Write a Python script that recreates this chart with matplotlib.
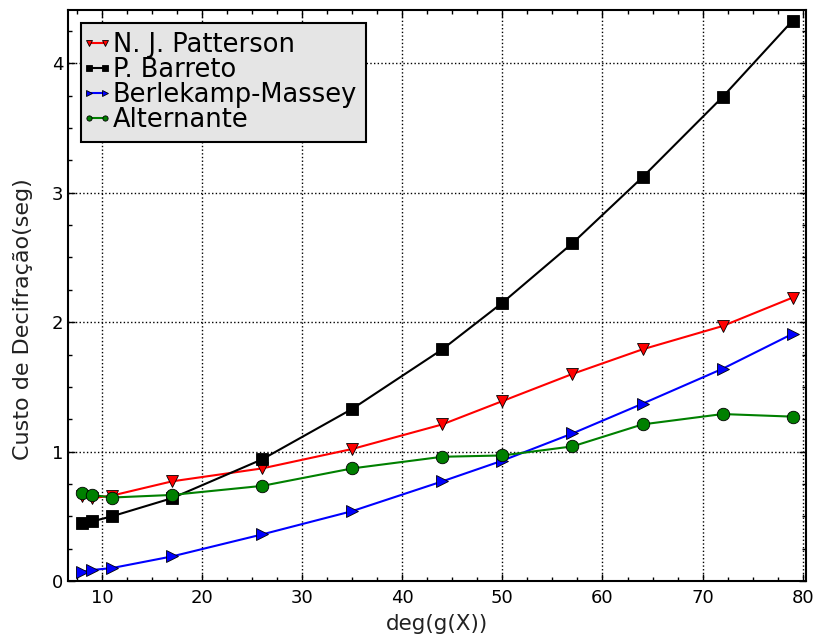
import matplotlib
matplotlib.use("Agg")
import matplotlib.pyplot as plt
from matplotlib.lines import Line2D
from matplotlib.legend_handler import HandlerLine2D
from matplotlib.ticker import MultipleLocator

# grau do polinomio de Goppa
graus = [8, 9, 11, 17, 26, 35, 44, 50, 57, 64, 72, 79]

patterson = [0.66, 0.64, 0.66, 0.77, 0.87, 1.02, 1.21, 1.39, 1.60, 1.79, 1.97, 2.19]
barreto = [0.45, 0.46, 0.50, 0.64, 0.94, 1.33, 1.79, 2.15, 2.61, 3.12, 3.74, 4.33]
berlekamp = [0.07, 0.085, 0.10, 0.19, 0.36, 0.54, 0.77, 0.93, 1.14, 1.37, 1.64, 1.91]
alternante = [0.68, 0.665, 0.645, 0.665, 0.735, 0.87, 0.96, 0.97, 1.04, 1.21, 1.29, 1.27]

fig = plt.figure(figsize=(8.13, 6.41), dpi=100)
ax = fig.add_axes([0.0836, 0.0936, 0.9074, 0.8904])

estilo = dict(markersize=9, lw=1.5, markeredgecolor="k", markeredgewidth=0.6)
ax.plot(graus, patterson, color="red", marker="v", label="N. J. Patterson", **estilo)
ax.plot(graus, barreto, color="black", marker="s", label="P. Barreto", **estilo)
ax.plot(graus, berlekamp, color="blue", marker=">", label="Berlekamp-Massey", **estilo)
ax.plot(graus, alternante, color="green", marker="o", label="Alternante", **estilo)

ax.set_xlim(6.6, 80.3)
ax.set_ylim(0, 4.41)
ax.xaxis.set_major_locator(MultipleLocator(10))
ax.xaxis.set_minor_locator(MultipleLocator(2.5))
ax.yaxis.set_major_locator(MultipleLocator(1))
ax.yaxis.set_minor_locator(MultipleLocator(0.25))
ax.tick_params(which="both", direction="in", top=True, right=True, labelsize=13)
ax.tick_params(which="major", length=5, width=1)
ax.tick_params(axis="x", which="major", pad=6)
ax.tick_params(which="minor", length=3, width=1)
ax.grid(True, which="major", color="k", linestyle=":", linewidth=1)
for s in ax.spines.values():
    s.set_linewidth(1.5)

ax.set_xlabel("deg(g(X))", fontsize=15.5, labelpad=5, color="#222222")
ax.set_ylabel("Custo de Decifração(seg)", fontsize=16, color="#222222")
ax.yaxis.set_label_coords(-0.047, 0.459)

leg = ax.legend(loc="upper left", fontsize=18.5, markerscale=0.42,
                handler_map={Line2D: HandlerLine2D(marker_pad=0, numpoints=2)},
                handlelength=0.62, handletextpad=0.3, labelspacing=-0.03,
                borderaxespad=0.5, borderpad=0.33, fancybox=False,
                framealpha=1)
leg.get_frame().set_facecolor("#e5e5e5")
leg.get_frame().set_edgecolor("black")
leg.get_frame().set_linewidth(1.5)

fig.savefig("out.png", dpi=100)
